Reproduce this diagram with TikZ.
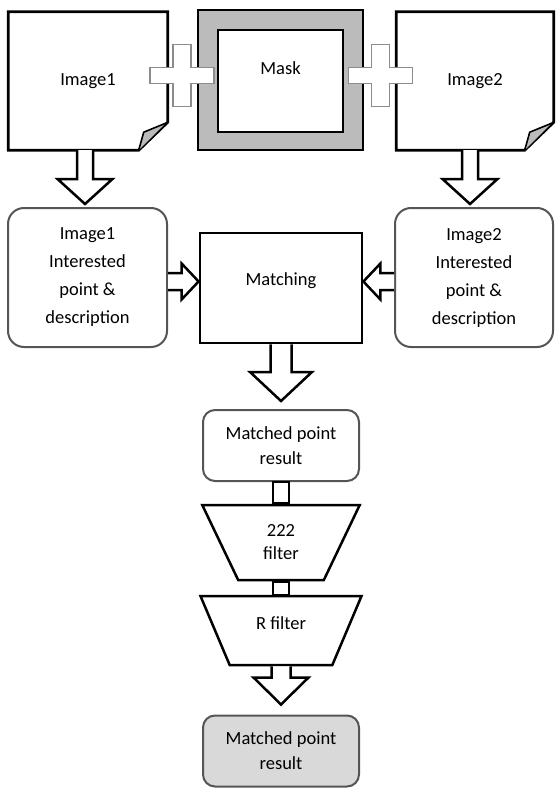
\documentclass[tikz,border=0pt]{standalone}
\usepackage{fontspec}
\setmainfont{Carlito}
\usetikzlibrary{shapes,calc}
\definecolor{frameGray}{HTML}{BBBBBB}
\definecolor{resultGray}{HTML}{D9D9D9}
\definecolor{edgeGray}{HTML}{555555}
\definecolor{plusGray}{HTML}{8C8C8C}
\tikzstyle{textFont} = [font=\fontsize{18.5pt}{28pt}\selectfont]
\tikzstyle{docNode} = [rectangle,textFont,minimum width=159pt,minimum height=138pt,inner sep=0pt]
\tikzstyle{docLine} = [draw,line width=2.8pt,line join=miter,fill=white]
\tikzstyle{block} = [draw,rectangle,textFont,line width=2.8pt,fill=white]
\tikzstyle{roundBlock} = [draw=edgeGray,rectangle,textFont,rounded corners=16pt,line width=2pt,fill=white,align=center,minimum width=159pt,minimum height=139pt]
\tikzstyle{resultBlock} = [roundBlock,font=\fontsize{18.5pt}{25pt}\selectfont,rounded corners=12pt,minimum width=156pt,minimum height=71pt]
\tikzstyle{filterBlock} = [draw,trapezium,shape border rotate=180,trapezium stretches=true,font=\fontsize{18.5pt}{23pt}\selectfont,line width=2.5pt,fill=white,align=center]
\tikzstyle{fatArrow} = [draw,line width=2.5pt,line join=miter,fill=white]
\tikzstyle{plusLine} = [draw=plusGray,line width=1.6pt,fill=white]

% page with the folded corner
\newcommand{\docFold}[1]{%
	\path[docLine] (#1.north west) -- (#1.north east) -- ([yshift=28pt]#1.south east)
		-- ([xshift=-29pt]#1.south east) -- (#1.south west) -- cycle;
	\draw[line width=1.6pt,fill=frameGray,line join=round] ([xshift=-29pt]#1.south east)
		-- ([xshift=-24pt,yshift=18pt]#1.south east) -- ([xshift=-2pt,yshift=27pt]#1.south east);}
% hollow arrow pointing down
\newcommand{\arrowDown}[5]{%
	\path[fatArrow] let \p1=(#1), \p2=(#2) in
		(\x1-#3,\y1) -- (\x1-#3,\y2+#5) -- (\x1-#4,\y2+#5) -- (\x1,\y2)
		-- (\x1+#4,\y2+#5) -- (\x1+#3,\y2+#5) -- (\x1+#3,\y1);}
% hollow arrow pointing left or right
\newcommand{\arrowSide}[5]{%
	\path[fatArrow] let \p1=(#1), \p2=(#2), \n1={sign(\x2-\x1)} in
		(\x1,\y1+#3) -- ({\x2-(\n1)*#5},\y1+#3) -- ({\x2-(\n1)*#5},\y1+#4) -- (\x2,\y1)
		-- ({\x2-(\n1)*#5},\y1-#4) -- ({\x2-(\n1)*#5},\y1-#3) -- (\x1,\y1-#3);}
% plus sign between the inputs
\newcommand{\plusSign}[1]{%
	\path[plusLine] let \p1=(#1) in
		(\x1-9pt,\y1+31pt) -- (\x1+9pt,\y1+31pt) -- (\x1+9pt,\y1+8pt) -- (\x1+32pt,\y1+8pt)
		-- (\x1+32pt,\y1-8pt) -- (\x1+9pt,\y1-8pt) -- (\x1+9pt,\y1-31pt) -- (\x1-9pt,\y1-31pt)
		-- (\x1-9pt,\y1-8pt) -- (\x1-32pt,\y1-8pt) -- (\x1-32pt,\y1+8pt) -- (\x1-9pt,\y1+8pt) -- cycle;}

\begin{document}
\begin{tikzpicture}[x=1pt,y=-1pt]
		\useasboundingbox (0,0) rectangle (556,789);
		\node[docNode](img1) at (88,81){};
		\node[docNode,minimum width=157pt](img2) at (475,81){};
		\docFold{img1}
		\docFold{img2}
		\node[textFont] at (img1){Image1};
		\node[textFont] at (img2){Image2};
		\node[block,fill=frameGray,minimum width=165pt,minimum height=140pt](maskFrame) at (280.5,80){};
		\node[block,minimum width=125pt,minimum height=102pt,text depth=26pt](mask) at (280.5,81){Mask};
		\coordinate (plusL) at ($(img1.east)!0.5!(maskFrame.west)$);
		\coordinate (plusR) at ($(maskFrame.east)!0.5!(img2.west)$);
		\plusSign{[yshift=5pt]plusL}
		\plusSign{[yshift=5pt]plusR}
		\node[roundBlock](int1) at (87.5,277.5){Image1\\Interested\\point \&\\description};
		\node[roundBlock,minimum width=158pt](int2) at (474,277.5){Image2\\Interested\\point \&\\description};
		\node[block,minimum width=162pt,minimum height=110pt,text depth=17pt](match) at (281,288){Matching};
		\node[resultBlock](res1) at (281,445.5){Matched point\\result};
		\node[filterBlock,trapezium left angle=67,trapezium right angle=67,minimum width=158pt,minimum height=75pt](zzz) at (281,542.5){222\\filter};
		\node[filterBlock,trapezium left angle=65,trapezium right angle=65,minimum width=162pt,minimum height=69pt,text depth=15pt](rfilt) at (281,630.5){R filter};
		\node[resultBlock,fill=resultGray](final) at (281,751){Matched point\\result};
		%arrows
		\arrowDown{[xshift=-3pt]img1.south}{[yshift=3pt]int1.north}{8pt}{27.5pt}{25pt}
		\arrowDown{[xshift=-5pt]img2.south}{[yshift=3pt]int2.north}{8pt}{27.5pt}{25pt}
		\arrowSide{[yshift=-4pt]int1.east}{match.west}{8.5pt}{18pt}{17pt}
		\arrowSide{[yshift=-4pt]int2.west}{match.east}{8.5pt}{18pt}{17pt}
		\arrowDown{match.south}{[yshift=8pt]res1.north}{10.5pt}{31pt}{29pt}
		\path[fatArrow]([xshift=-8pt]res1.south) rectangle ([xshift=8pt]zzz.north);
		\path[fatArrow]([xshift=-8pt]zzz.south) rectangle ([xshift=8pt]rfilt.north);
		\arrowDown{rfilt.south}{[yshift=10pt]final.north}{9.5pt}{27.5pt}{27pt}
	\end{tikzpicture}
\end{document}
